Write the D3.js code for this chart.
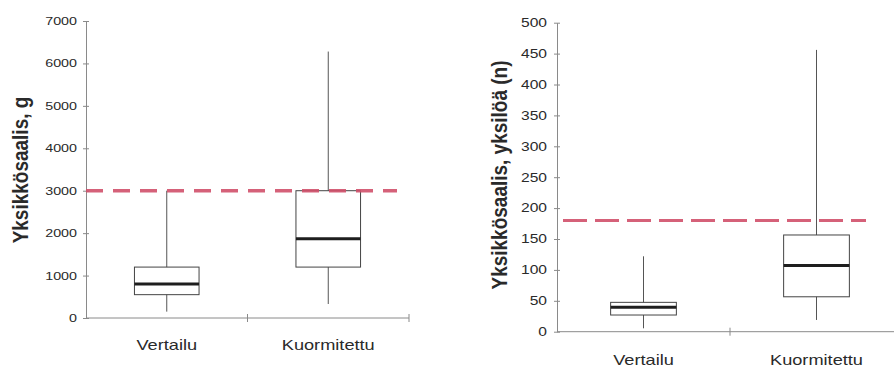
<!DOCTYPE html>
<html>
<head>
<meta charset="utf-8">
<script src="https://cdn.jsdelivr.net/npm/d3@7/dist/d3.min.js"></script>
<style>
  html, body { margin: 0; padding: 0; background: #fff; }
  svg { display: block; }
  text { font-family: "Liberation Sans", Arial, sans-serif; fill: #2a2a2a; }
</style>
</head>
<body>
<svg id="chart" width="894" height="367"></svg>
<script>
// ---- Data ----
const categories = ["Vertailu", "Kuormitettu"];

// Panel 1: Yksikkösaalis, g
const weightMin    = [150, 330];
const weightQ1     = [550, 1200];
const weightMedian = [800, 1870];
const weightQ3     = [1200, 3000];
const weightMax    = [3000, 6280];
const weightRef    = 3000;
const weightTicks  = [0, 1000, 2000, 3000, 4000, 5000, 6000, 7000];

// Panel 2: Yksikkösaalis, yksilöä (n)
const countMin    = [5.5, 19];
const countQ1     = [27, 56.5];
const countMedian = [39.5, 107];
const countQ3     = [47.5, 156.5];
const countMax    = [122, 456];
const countRef    = 180;
const countTicks  = [0, 50, 100, 150, 200, 250, 300, 350, 400, 450, 500];

const svg = d3.select("#chart");

function drawPanel(cfg) {
  const g = svg.append("g");
  const x = d3.scaleBand().domain(categories).range(cfg.xRange).padding(0);
  const y = d3.scaleLinear().domain([0, cfg.ticks[cfg.ticks.length - 1]]).range(cfg.yRange);

  // y axis
  const yAxis = g.append("g").attr("transform", `translate(${cfg.xRange[0]},0)`)
    .call(d3.axisLeft(y).tickValues(cfg.ticks).tickSizeInner(3).tickSizeOuter(0).tickPadding(0).tickFormat(""));
  yAxis.select(".domain").attr("stroke", "#8a8a8a");
  yAxis.selectAll(".tick line").attr("stroke", "#8a8a8a").attr("x1", 3).attr("x2", -3);
  // tick labels (horizontally stretched like the original)
  g.selectAll(".ylab").data(cfg.ticks).enter().append("text")
    .attr("class", "ylab")
    .attr("text-anchor", "end")
    .attr("font-size", cfg.tickFont)
    .attr("dy", "0.36em")
    .attr("transform", d => `translate(${cfg.xRange[0] - cfg.tickGap},${y(d)}) scale(1.3,1)`)
    .text(d => d);

  // x axis
  const xAxisG = g.append("g").attr("transform", `translate(0,${cfg.yRange[0]})`);
  xAxisG.append("line")
    .attr("x1", cfg.xRange[0]).attr("x2", cfg.xRange[1])
    .attr("y1", 0).attr("y2", 0).attr("stroke", "#8a8a8a");
  xAxisG.selectAll(".xt").data(categories.slice(1).concat(["__end"])).enter().append("line")
    .attr("x1", (d, i) => d === "__end" ? cfg.xRange[1] : x(d))
    .attr("x2", (d, i) => d === "__end" ? cfg.xRange[1] : x(d))
    .attr("y1", -4).attr("y2", 4).attr("stroke", "#8a8a8a");
  g.selectAll(".xlab").data(categories).enter().append("text")
    .attr("class", "xlab")
    .attr("text-anchor", "middle")
    .attr("font-size", 14)
    .attr("transform", d => `translate(${x(d) + x.bandwidth() / 2},${cfg.catY}) scale(1.3,1)`)
    .text(d => d);

  // y label
  g.append("text")
    .attr("text-anchor", "middle")
    .attr("font-size", 19)
    .attr("font-weight", "bold")
    .attr("transform", `translate(${cfg.labelX},${cfg.labelY}) rotate(-90) scale(1,1.12)`)
    .text(cfg.label);

  // boxes
  const bw = x.bandwidth() * cfg.boxFrac;
  const data = categories.map((c, i) => ({
    c, min: cfg.min[i], q1: cfg.q1[i], med: cfg.med[i], q3: cfg.q3[i], max: cfg.max[i]
  }));
  const bx = g.selectAll(".box").data(data).enter().append("g");
  const cx = d => x(d.c) + x.bandwidth() / 2;
  bx.append("line").attr("x1", cx).attr("x2", cx)
    .attr("y1", d => y(d.max)).attr("y2", d => y(d.q3)).attr("stroke", "#555").attr("stroke-width", 1);
  bx.append("line").attr("x1", cx).attr("x2", cx)
    .attr("y1", d => y(d.q1)).attr("y2", d => y(d.min)).attr("stroke", "#555").attr("stroke-width", 1);
  bx.append("rect")
    .attr("x", d => cx(d) - bw / 2).attr("width", bw)
    .attr("y", d => y(d.q3)).attr("height", d => y(d.q1) - y(d.q3))
    .attr("fill", "none").attr("stroke", "#444").attr("stroke-width", 1);
  bx.append("line")
    .attr("x1", d => cx(d) - bw / 2).attr("x2", d => cx(d) + bw / 2)
    .attr("y1", d => y(d.med)).attr("y2", d => y(d.med))
    .attr("stroke", "#1e1e1e").attr("stroke-width", 3);

  // reference dashed line
  g.append("line")
    .attr("x1", cfg.refX[0]).attr("x2", cfg.refX[1])
    .attr("y1", y(cfg.ref)).attr("y2", y(cfg.ref))
    .attr("stroke", "#d0506a").attr("stroke-opacity", 0.9)
    .attr("stroke-width", cfg.refW)
    .attr("stroke-dasharray", cfg.dash);
}

drawPanel({
  xRange: [86, 409], yRange: [318, 21], ticks: weightTicks,
  tickFont: 11, tickGap: 9, catY: 350,
  label: "Yksikkösaalis, g", labelX: 28, labelY: 170,
  min: weightMin, q1: weightQ1, med: weightMedian, q3: weightQ3, max: weightMax,
  boxFrac: 0.40, ref: weightRef, refX: [86, 397], refW: 3.5, dash: "17,10"
});

drawPanel({
  xRange: [557, 903], yRange: [331.7, 22.7], ticks: countTicks,
  tickFont: 12, tickGap: 10, catY: 365,
  label: "Yksikkösaalis, yksilöä (n)", labelX: 507, labelY: 175,
  min: countMin, q1: countQ1, med: countMedian, q3: countQ3, max: countMax,
  boxFrac: 0.38, ref: countRef, refX: [563, 866], refW: 3, dash: "24,8"
});
</script>
</body>
</html>
